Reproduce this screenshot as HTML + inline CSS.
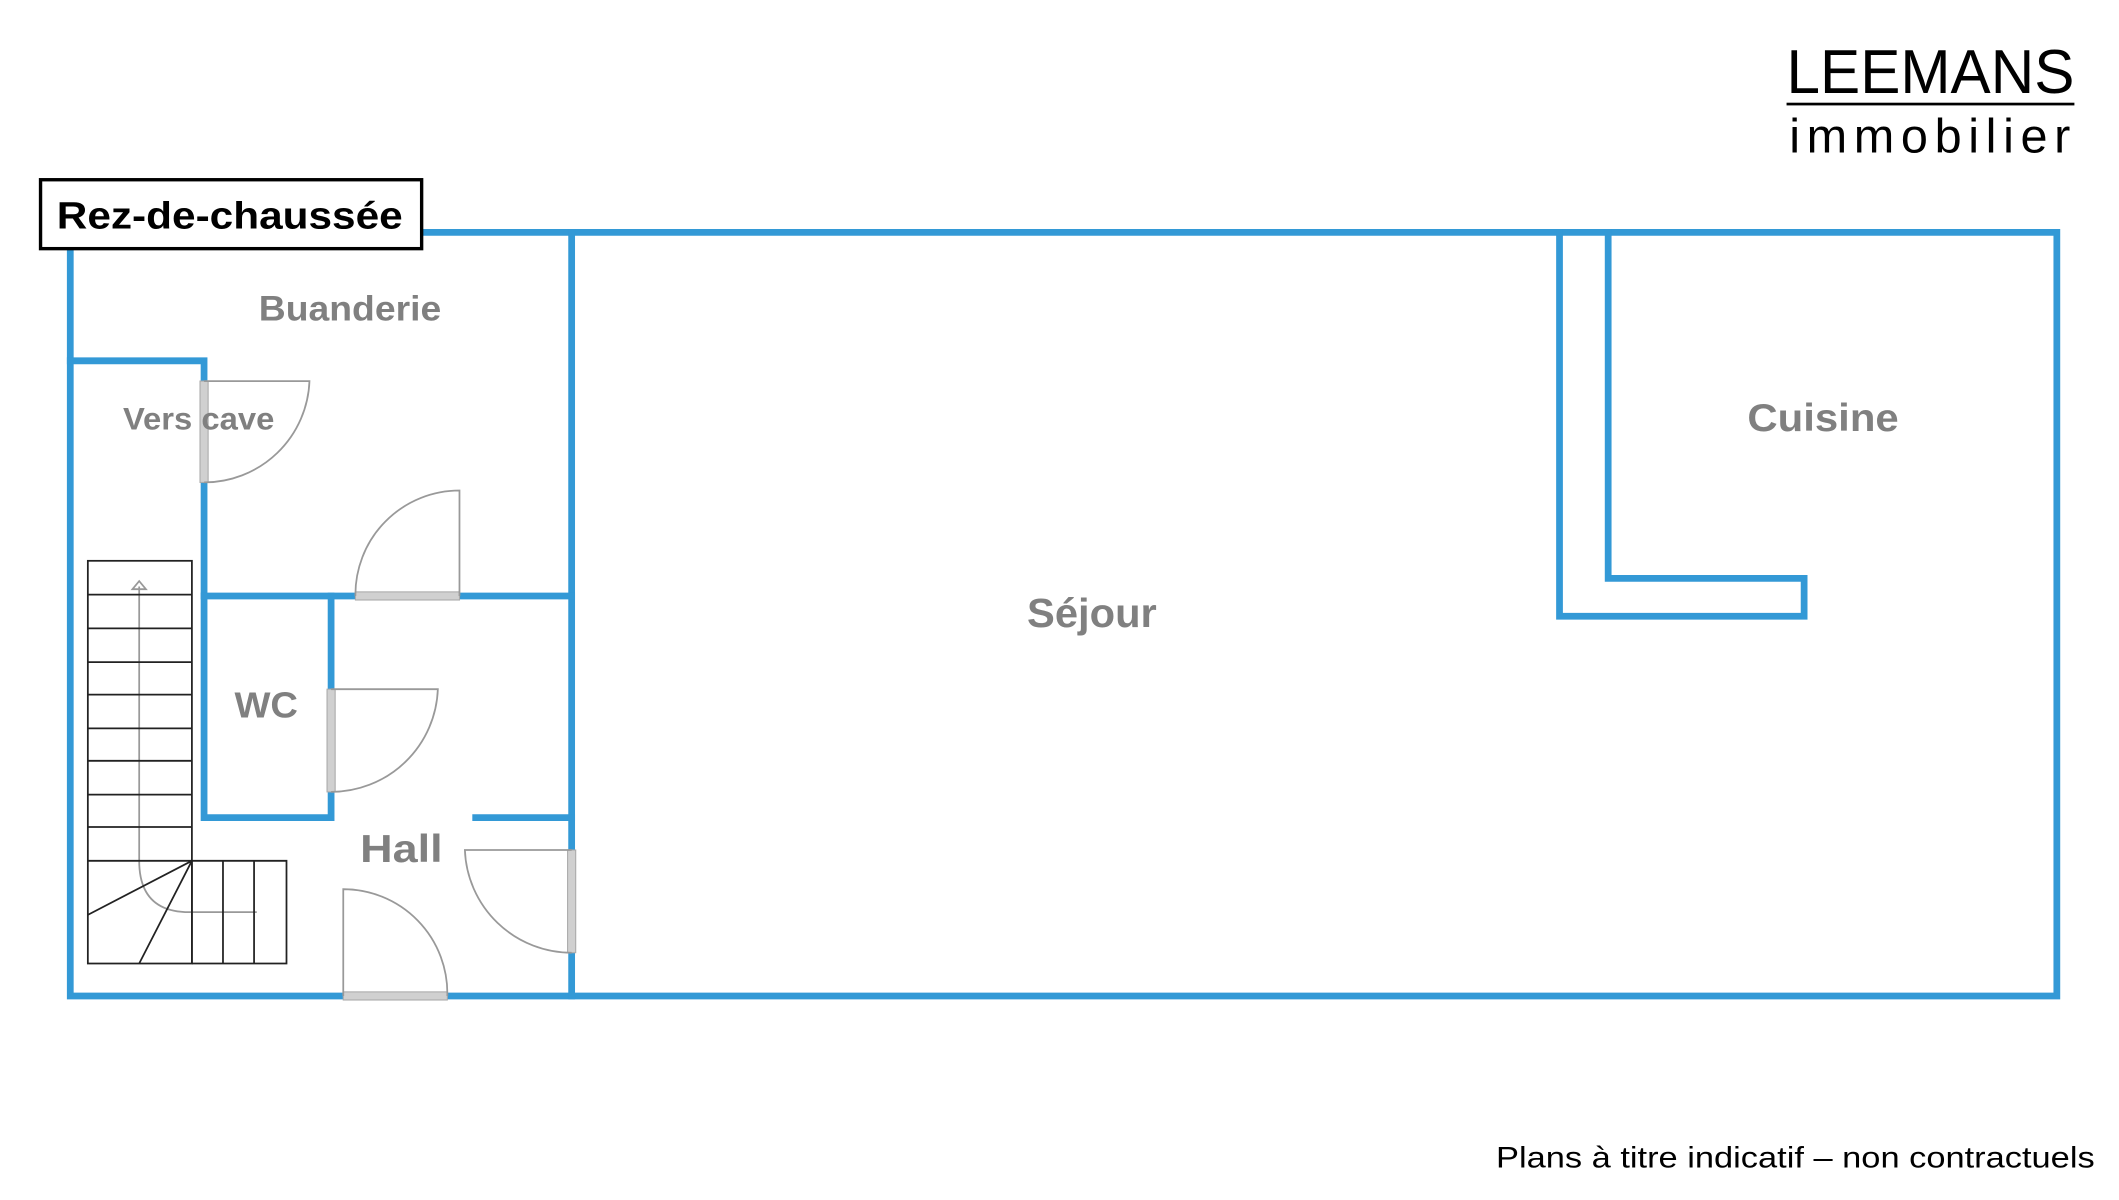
<!DOCTYPE html>
<html><head><meta charset="utf-8"><style>html,body{margin:0;padding:0;background:#fff}svg{display:block}</style></head>
<body>
<svg width="2119" height="1200" viewBox="0 0 1568 888" preserveAspectRatio="none" xmlns="http://www.w3.org/2000/svg" font-family="Liberation Sans, sans-serif">
<rect width="1568" height="888" fill="#fff"/>
<g stroke="#3399d6" stroke-width="5" fill="none" stroke-linecap="square">
<path d="M52 172 H1522 V737 H52 Z"/>
<path d="M423 172 V737"/>
<path d="M52 267 H151 V605 H245 V441"/>
<path d="M151 441 H423"/>
<path d="M352 605 H423"/>
<path d="M1154 172 V456 H1335 V428 H1190 V172"/>
</g>
<g fill="#d0d0d0" stroke="#aaa" stroke-width="0.8">
<rect x="148" y="282" width="6" height="75"/>
<rect x="263" y="438" width="77" height="6"/>
<rect x="242" y="510" width="6" height="76"/>
<rect x="420" y="629" width="6" height="76"/>
<rect x="254" y="734" width="77" height="6"/>
</g>
<g stroke="#999" stroke-width="1.3" fill="none">
<path d="M151 282 H229 A78 78 0 0 1 151 357"/>
<path d="M340 441 V363 A77 77 0 0 0 263 441"/>
<path d="M245 510 H324 A79 79 0 0 1 245 586"/>
<path d="M423 629 H344 A79 79 0 0 0 423 705"/>
<path d="M254 737 V658 A77 77 0 0 1 331 737"/>
<path d="M103 434 V637 Q103 675 140 675 H190"/>
<path d="M98 436 L103 430 L108 436 Z"/>
</g>
<g stroke="#222" stroke-width="1.3" fill="none">
<rect x="65" y="415" width="77" height="298"/>
<path d="M65 440H142M65 465H142M65 490H142M65 514H142M65 539H142M65 563H142M65 588H142M65 612H142M65 637H212V713H142M165 637V713M188 637V713M142 637V713"/>
<path d="M142 637 L65 677 M142 637 L103 713"/>
</g>
<rect x="30" y="133" width="282" height="51" fill="#fff" stroke="#000" stroke-width="2.5"/>
<text x="42" y="169" font-size="28" font-weight="bold" fill="#000" textLength="256" lengthAdjust="spacingAndGlyphs">Rez-de-chaussée</text>
<g fill="#808080" font-weight="bold" text-anchor="middle">
<text x="259" y="237" font-size="26" textLength="135" lengthAdjust="spacingAndGlyphs">Buanderie</text>
<text x="147" y="318" font-size="23" textLength="112" lengthAdjust="spacingAndGlyphs">Vers cave</text>
<text x="197" y="531" font-size="27" textLength="47" lengthAdjust="spacingAndGlyphs">WC</text>
<text x="297" y="638" font-size="29" textLength="61" lengthAdjust="spacingAndGlyphs">Hall</text>
<text x="808" y="464" font-size="30" textLength="96" lengthAdjust="spacingAndGlyphs">Séjour</text>
<text x="1349" y="319" font-size="29" textLength="112" lengthAdjust="spacingAndGlyphs">Cuisine</text>
</g>
<text x="1322" y="69" font-size="46" fill="#000" textLength="213" lengthAdjust="spacingAndGlyphs">LEEMANS</text>
<rect x="1322" y="76" width="213" height="2" fill="#000"/>
<text x="1324" y="113" font-size="36" fill="#000" textLength="208" lengthAdjust="spacing">immobilier</text>
<text x="1550" y="864" font-size="22" fill="#000" text-anchor="end" textLength="443" lengthAdjust="spacingAndGlyphs">Plans à titre indicatif – non contractuels</text>
</svg>
</body></html>
